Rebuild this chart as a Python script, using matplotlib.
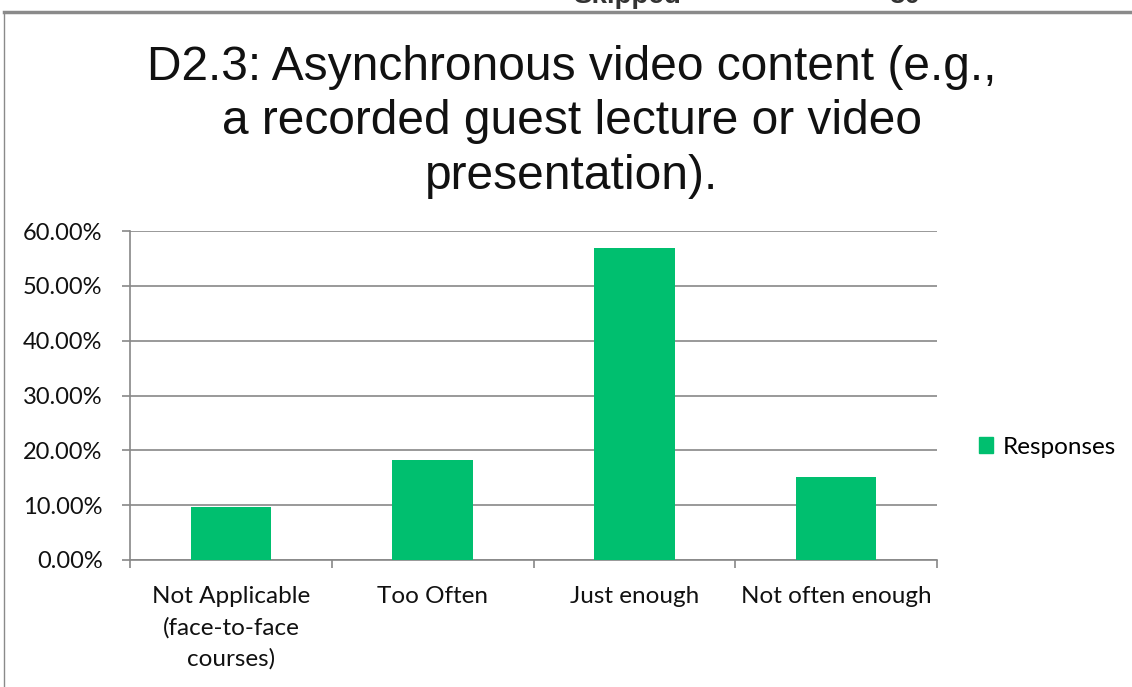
import matplotlib
matplotlib.use("Agg")
import matplotlib.pyplot as plt
from matplotlib.patches import Rectangle
from matplotlib.lines import Line2D

categories = ["Not Applicable\n(face-to-face\ncourses)", "Too Often", "Just enough", "Not often enough"]
values = [9.68, 18.28, 56.99, 15.05]
yticks = [0, 10, 20, 30, 40, 50, 60]
series_name = "Responses"
title = "D2.3: Asynchronous video content (e.g.,\na recorded guest lecture or video\npresentation)."
header_label = "Skipped"
header_value = "30"

W, H = 1132, 687
fig = plt.figure(figsize=(W / 100, H / 100), dpi=100)
fig.patch.set_facecolor("white")

tick_font = "Lato"
green = "#00BF6F"
grid = "#888888"

# outer frame
fig.add_artist(Line2D([4 / W, 1.0], [1 - 12 / H, 1 - 12 / H], transform=fig.transFigure, color="#8a8a8a", lw=2.5))
fig.add_artist(Line2D([4 / W, 4 / W], [0, 1 - 12 / H], transform=fig.transFigure, color="#8a8a8a", lw=1.0))

# clipped header text (only its lower part shows, as in the reference)
fig.text(627 / W, 1 - 3 / H, header_label, ha="center", va="baseline", fontsize=20, fontweight="bold", color="#333333", family="Liberation Sans")
fig.text(905 / W, 1 - 3 / H, header_value, ha="center", va="baseline", fontsize=20, fontweight="bold", color="#333333", family="Liberation Sans")

left, right, top, bottom = 130, 937, 231, 560
ax = fig.add_axes([left / W, 1 - bottom / H, (right - left) / W, (bottom - top) / H])
x = list(range(len(categories)))
ax.bar(x, values, width=0.4, color=green, zorder=3, label=series_name)
ax.set_xlim(-0.5, len(categories) - 0.5)
ax.set_ylim(0, 60)
ax.set_yticks(yticks)
ax.set_yticklabels([f"{v:.2f}%" for v in yticks], fontsize=17, family=tick_font, color="#111111")
ax.yaxis.grid(True, color=grid, lw=1.2, zorder=0)
ax.set_xticks([i - 0.5 for i in range(len(categories) + 1)], minor=False)
ax.set_xticklabels([])
ax.set_xticks(x, minor=True)
ax.set_xticklabels(categories, minor=True, fontsize=17.5, family=tick_font, color="#111111", va="top", linespacing=1.55)
ax.tick_params(axis="x", which="major", length=5.8, color=grid, width=1.2, direction="out")
ax.tick_params(axis="x", which="minor", length=0, pad=19)
ax.tick_params(axis="y", length=5.8, color=grid, width=1.2, pad=14)
for s in ["top", "right"]:
    ax.spines[s].set_visible(False)
for s in ["left", "bottom"]:
    ax.spines[s].set_color(grid)
    ax.spines[s].set_linewidth(1.2)

fig.text(572 / W, 1 - 122 / H, title, ha="center", va="center", fontsize=34.5, family="Liberation Sans", color="#111111", linespacing=1.26)

leg = fig.legend(handles=[Rectangle((0, 0), 1, 1, color=green)], labels=[series_name],
                 loc="center left", bbox_to_anchor=(957 / W, 1 - 447 / H), frameon=False,
                 handlelength=0.6, handleheight=0.6, handletextpad=0.4,
                 prop={"family": tick_font, "size": 17.5})

fig.savefig("out.png", dpi=100, facecolor="white")
